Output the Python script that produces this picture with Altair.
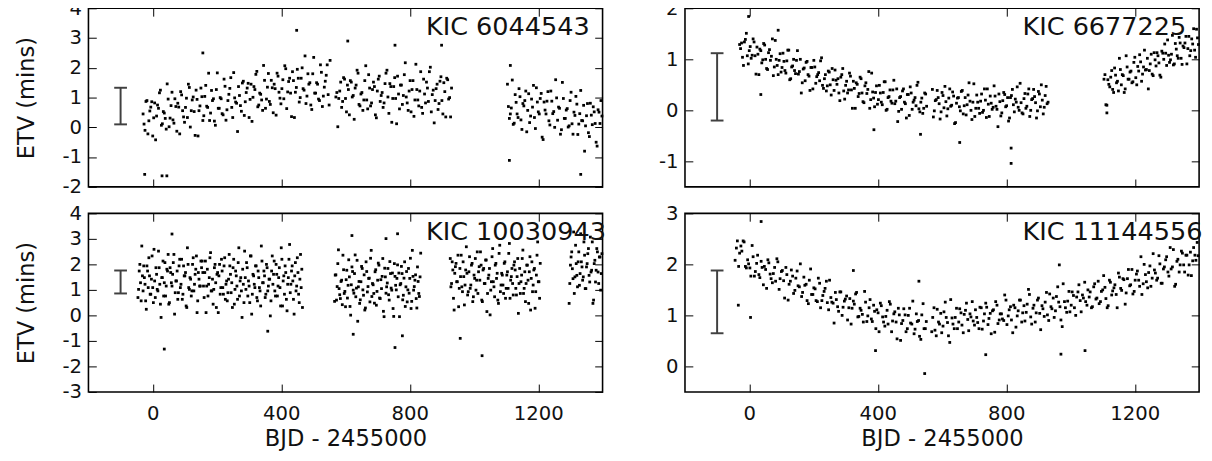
import altair as alt
import pandas as pd

FONT = "DejaVu Sans"
W, H = 524, 182
X_DOMAIN = [-200, 1400]
X_TICKS = [0, 400, 800, 1200]

# ---------------- eclipse times (BJD - 2455000) for the two top panels
XA1 = [-30,-24,-18,-12,-6,0,6,12,18,24,30,36,42,48,54,60,66,72,78,84,
       90,96,102,108,114,120,126,132,138,144,150,156,162,168,174,180,186,192,198,204,
       210,216,222,228,234,240,246,252,258,264,270,276,282,288,294,300,306,312,318,324,
       330,336,342,348,354,360,366,372,378,384,390,396,402,408,414,420,426,432,438,444,
       450,456,462,468,474,480,486,492,498,504,510,516,522,528,534,540,546,552]
XA2 = [570,576,582,588,594,600,606,612,618,624,630,636,642,648,654,660,666,672,678,684,
       690,696,702,708,714,720,726,732,738,744,750,756,762,768,774,780,786,792,798,804,
       810,816,822,828,834,840,846,852,858,864,870,876,882,888,894,900,906,912,918,924,930]
XB = [1104,1110,1116,1122,1128,1134,1140,1146,1152,1158,1164,1170,1176,1182,1188,1194,
      1200,1206,1212,1218,1224,1230,1236,1242,1248,1254,1260,1266,1272,1278,1284,1290,
      1296,1302,1308,1314,1320,1326,1332,1338,1344,1350,1356,1362,1368,1374,1380,1386,1392,1398]
XA1b = [-27,-21,-15,-9,-3,3,9,15,21,27,33,39,45,51,57,63,69,75,81,87,
        93,99,105,111,117,123,129,135,141,147,153,159,165,171,177,183,189,195,201,207,
        213,219,225,231,237,243,249,255,261,267,273,279,285,291,297,303,309,315,321,327,
        333,339,345,351,357,363,369,375,381,387,393,399,405,411,417,423,429,435,441,447,
        453,459,465,471,477,483,489,495,501,507,513,519,525,531,537,543,549]
XA2b = [573,579,585,591,597,603,609,615,621,627,633,639,645,651,657,663,669,675,681,687,
        693,699,705,711,717,723,729,735,741,747,753,759,765,771,777,783,789,795,801,807,
        813,819,825,831,837,843,849,855,861,867,873,879,885,891,897,903,909,915,921,927]
XBb = [1107,1113,1119,1125,1131,1137,1143,1149,1155,1161,1167,1173,1179,1185,1191,1197,
       1203,1209,1215,1221,1227,1233,1239,1245,1251,1257,1263,1269,1275,1281,1287,1293,
       1299,1305,1311,1317,1323,1329,1335,1341,1347,1353,1359,1365,1371,1377,1383,1389,1395]

# ---------------- KIC 6044543
TL_YA1 = [.45,-.10,.90,.22,.68,-.29,.82,.38,.64,1.25,.12,.48,-.06,.95,.31,1.18,.14,.70,.81,-.22,
          1.09,.35,.67,.33,1.34,.56,1.02,-.27,.94,.56,1.32,.23,1.04,.71,1.82,.48,.90,.21,1.27,.64,
          1.00,.46,1.62,.24,.90,1.31,.67,1.84,.85,-.14,1.07,.54,1.55,.86,1.32,.33,1.45,1.01,1.27,1.88,
          .75,1.11,.57,1.58,.95,1.81,.77,1.33,1.45,.41,1.72,.98,1.30,.96,1.97,1.19,1.65,.36,1.57,1.18,
          1.95,.85,1.65,1.30,2.40,1.05,1.45,.75,1.80,1.15,1.50,.95,2.10,.70,1.35,1.75,1.10,2.25]
TL_YA2 = [1.02,.02,1.22,.67,1.67,.97,1.42,.42,1.52,1.07,1.32,1.92,.77,1.12,.57,1.57,.92,1.77,.72,1.27,
          1.37,.32,1.62,.87,1.17,.82,1.82,1.02,1.47,.17,1.37,.97,1.72,.62,1.42,1.07,2.17,.82,1.22,.52,
          1.57,.92,1.27,.72,1.87,.47,1.12,1.52,.87,2.02,1.10,.15,1.30,.60,1.55,.90,1.50,.35,1.60,1.00,1.32]
TL_YB = [1.45,.30,.65,.10,1.10,.45,1.30,.25,.80,.90,-.15,1.13,.38,.68,.33,1.33,.52,.97,-.33,.85,
         .45,1.20,.08,.88,.53,1.60,.24,.64,-.08,.97,.30,.63,.05,1.18,-.23,.40,.78,.11,1.24,.22,
         -.80,.39,-.18,.81,.09,.52,-.50,.59,.13,.38]
TL_YA1b = [.11,.87,-.22,.55,.86,.32,-.42,.75,1.16,.07,.53,.30,1.46,.02,.73,.25,.96,-.13,.68,1.20,
           .56,.17,.98,1.45,.01,.92,.53,1.25,-.29,.72,1.03,.39,1.41,.67,.23,1.24,.96,.07,1.83,.64,
           .96,.42,1.38,.59,1.11,1.67,.33,.99,.81,1.37,.73,1.49,.40,1.17,1.48,.94,.20,1.37,1.78,.69,
           1.15,.92,2.08,.64,1.35,.87,1.58,.49,1.30,1.82,1.18,.79,1.60,2.07,.63,1.54,1.15,1.87,.33,1.34,
           1.65,1.00,2.00,1.25,.80,1.80,1.50,.60,2.35,1.15,1.45,.90,1.85,1.05,1.55,2.10,.75]
TL_YA2b = [1.17,.97,1.52,.87,1.62,.52,1.27,1.57,1.02,.27,1.42,1.82,.72,1.17,.92,2.07,.62,1.32,.82,1.52,
           .42,1.22,1.72,1.07,.67,1.47,1.92,.47,1.37,.97,1.67,.12,1.12,1.42,.77,1.77,1.02,.57,1.57,1.27,
           .37,2.12,.92,1.22,.67,1.62,.82,1.32,1.87,.52,1.25,.90,1.45,.80,1.70,.45,1.20,1.65,.95,.35]
TL_YBb = [.70,.45,1.59,.14,.84,.33,1.03,-.07,.72,1.22,.57,.16,.95,1.41,-.04,.85,.45,1.14,-.41,.58,
          .88,.22,1.22,.46,.00,.99,.68,-.23,1.51,.30,.58,.01,.90,.12,.51,1.04,-.24,.46,.23,.74,
          .05,.80,-.31,.41,.69,.13,-.63,.51,.90]
TL_OX = [-25, 29, 44, 156, 448, 607, 754, 899, 1113, 1332, 1110]
TL_OY = [-1.58, -1.63, -1.63, 2.5, 3.26, 2.9, 2.76, 2.76, 2.08, -1.58, -1.11]

# ---------------- KIC 6677225
TR_YA1 = [1.29,1.32,.88,1.39,1.07,1.17,1.02,1.40,1.07,1.24,.70,1.17,.99,1.28,.82,1.13,.98,1.40,.85,1.00,
          .70,1.11,.84,.96,.73,1.18,.60,.85,1.00,.72,1.17,.76,.34,.81,.58,.96,.67,.84,.42,.85,
          .66,.74,.97,.49,.62,.38,.77,.50,.82,.39,.59,.62,.19,.70,.38,.49,.34,.73,.40,.57,
          .04,.51,.33,.62,.17,.48,.33,.76,.21,.36,.07,.48,.21,.34,.11,.56,.00,.25,.40,.14,
          .59,.18,-.22,.25,.02,.42,.13,.31,-.10,.34,.16,.25,.49,.03,.16,-.06,.34,.08]
TR_YA2 = [.41,-.01,.21,.25,-.17,.35,.05,.17,.03,.42,.10,.28,-.24,.24,.07,.37,-.07,.25,.11,.54,
          .00,.16,-.12,.30,.04,.18,-.04,.42,-.14,.12,.28,.02,.48,.08,-.32,.17,-.05,.35,.07,.25,
          -.15,.29,.11,.22,.46,.00,.15,-.07,.33,.08,.42,.00,.23,.27,-.15,.37,.07,.20,.06,.47,.16]
TR_YB = [.61,.11,.60,.46,.78,.35,.69,.57,1.02,.50,.68,.42,.85,.61,.77,.56,1.04,.50,.77,.95,
         .71,1.18,.80,.42,.91,.71,1.13,.87,1.07,.69,1.16,1.00,1.12,1.38,.94,1.10,.89,1.31,1.07,1.43,
         1.02,1.26,1.32,.91,1.45,1.17,1.30,1.18,1.59,1.29]
TR_YA1b = [1.21,1.04,1.34,1.51,.91,1.25,1.08,1.34,.71,1.10,1.20,.93,1.31,1.00,.80,1.19,1.06,.68,1.37,.88,
           .98,.75,1.12,.78,.97,1.18,.62,.87,.78,.98,.71,1.00,.54,.83,.94,.70,.39,.84,.98,.53,
           .70,.58,1.03,.43,.70,.48,.75,.30,.60,.79,.51,.34,.65,.82,.22,.57,.40,.67,.04,.43,
           .54,.27,.65,.34,.15,.54,.41,.04,.73,.24,.35,.12,.49,.16,.35,.56,.02,.27,.18,.40,
           .13,.42,-.02,.27,.38,.16,-.15,.31,.46,.02,.20,.09,.55,-.03,.24,.04,.32]
TR_YA2b = [-.13,.19,.39,.13,-.03,.29,.47,-.11,.24,.08,.36,-.26,.14,.25,-.01,.39,.09,-.09,.30,.18,
           -.18,.52,.04,.16,-.06,.32,.00,.20,.42,-.12,.14,.06,.28,.02,.32,-.11,.19,.31,.09,-.21,
           .25,.41,-.03,.16,.06,.53,-.05,.23,.04,.32,-.12,.21,.41,.15,-.01,.32,.50,-.07,.29,.13]
TR_YBb = [.70,.10,.51,.65,.41,.83,.54,.38,.80,.70,.35,1.07,.61,.75,.54,.94,.64,.86,1.09,.57,
          .85,.79,1.02,.78,1.10,.68,.99,1.13,.93,.65,1.12,1.30,.88,1.08,.99,1.47,.91,1.20,1.02,1.32,
          .90,1.23,1.45,1.21,1.07,1.40,1.60,1.04,1.42]
TR_OX = [-2, 815, 815, 1113, 655, 533, 388, 36, 90]
TR_OY = [1.84, -1.04, -0.74, -0.05, -0.63, -0.47, -0.38, 0.31, 1.57]

# ---------------- KIC 10030943
BL_X1 = [-46,-42,-38,-34,-30,-26,-22,-18,-14,-10,-6,-2,2,6,10,14,18,22,26,30,
         34,38,42,46,50,54,58,62,66,70,74,78,82,86,90,94,98,102,106,110,
         114,118,122,126,130,134,138,142,146,150,154,158,162,166,170,174,178,182,186,190,
         194,198,202,206,210,214,218,222,226,230,234,238,242,246,250,254,258,262,266,270,
         274,278,282,286,290,294,298,302,306,310,314,318,322,326,330,334,338,342,346,350,
         354,358,362,366,370,374,378,382,386,390,394,398,402,406,410,414,418,422,426,430,
         434,438,442,446,450,454,458,462,466]
BL_Y1 = [.70,1.74,1.28,2.72,.96,1.48,.57,1.94,1.09,1.55,.83,2.33,.50,1.35,1.87,1.02,2.52,1.22,-.08,1.48,
         .76,2.07,1.15,1.74,.44,1.87,1.28,1.61,2.39,.89,1.35,.63,1.94,1.09,2.20,.83,1.55,1.68,.31,2.00,
         1.02,1.42,.96,2.26,1.22,1.81,.11,1.68,1.15,2.13,
         2.13,1.15,1.68,.11,1.81,1.22,2.26,.96,1.42,1.02,2.00,.31,1.68,1.55,.83,2.20,1.09,1.94,.63,1.35,
         .89,2.39,1.61,1.28,1.87,.44,1.74,1.15,2.07,.76,1.48,-.08,1.22,2.52,1.02,1.87,1.35,.50,2.33,.83,
         1.55,1.09,1.94,.57,1.48,.96,2.72,1.28,1.74,.70,
         2.00,.96,1.42,-.02,1.74,1.22,2.13,.76,1.61,1.15,1.87,.37,2.20,1.35,.83,1.68,.18,1.48,2.78,1.22,
         1.94,.63,1.55,.96,2.26,.83,1.42,1.09,.31]
BL_X2 = [566,570,574,578,582,586,590,594,598,602,606,610,614,618,622,626,630,634,638,642,
         646,650,654,658,662,666,670,674,678,682,686,690,694,698,702,706,710,714,718,722,
         726,730,734,738,742,746,750,754,758,762,766,770,774,778,782,786,790,794,798,802,
         806,810,814,818,822,826,830,834]
BL_Y2 = [.55,1.59,1.13,2.57,.81,1.33,.42,1.79,.94,1.40,.68,2.18,.35,1.20,1.72,.87,2.37,1.07,-.23,1.33,
         .61,1.92,1.00,1.59,.29,1.72,1.13,1.46,2.24,.74,1.20,.48,1.79,.94,2.05,.68,1.40,1.53,.16,1.85,
         .87,1.27,.81,2.11,1.07,1.66,-.04,1.53,1.00,1.98,
         1.66,1.20,1.92,.61,1.46,.35,1.72,1.00,.87,2.24,.55,1.53,1.13,1.59,.29,1.33,.74,2.44]
BL_X3 = [926,930,934,938,942,946,950,954,958,962,966,970,974,978,982,986,990,994,998,1002,
         1006,1010,1014,1018,1022,1026,1030,1034,1038,1042,1046,1050,1054,1058,1062,1066,1070,1074,1078,1082,
         1086,1090,1094,1098,1102,1106,1110,1114,1118,1122,1126,1130,1134,1138,1142,1146,1150,1154,1158,1162,
         1166,1170,1174,1178,1182,1186,1190,1194,1198,1202,1206]
BL_Y3 = [2.23,1.25,1.78,.21,1.91,1.32,2.36,1.06,1.52,1.12,2.10,.41,1.78,1.65,.93,2.30,1.19,2.04,.73,1.45,
         .99,2.49,1.71,1.38,1.97,.54,1.84,1.25,2.17,.86,1.58,.02,1.32,2.62,1.12,1.97,1.45,.60,2.43,.93,
         1.65,1.19,2.04,.67,1.58,1.06,2.82,1.38,1.84,.80,
         2.10,1.06,1.52,.08,1.84,1.32,2.23,.86,1.71,1.25,1.97,.47,2.30,1.45,.93,1.78,.28,1.58,2.88,1.32,2.04]
BL_X4 = [1298,1302,1306,1310,1314,1318,1322,1326,1330,1334,1338,1342,1346,1350,1354,1358,
         1362,1366,1370,1374,1378,1382,1386,1390,1394,1398]
BL_Y4 = [1.25,2.29,1.83,3.27,1.51,2.03,1.12,2.49,1.64,2.10,1.38,2.88,1.05,1.90,2.42,1.57,
         3.07,1.77,.47,2.03,1.31,2.62,1.70,2.29,.99,2.42]
BL_X1b = [-44,-40,-36,-32,-28,-24,-20,-16,-12,-8,-4,0,4,8,12,16,20,24,28,32,
          36,40,44,48,52,56,60,64,68,72,76,80,84,88,92,96,100,104,108,112,
          116,120,124,128,132,136,140,144,148,152,156,160,164,168,172,176,180,184,188,192,
          196,200,204,208,212,216,220,224,228,232,236,240,244,248,252,256,260,264,268,272,
          276,280,284,288,292,296,300,304,308,312,316,320,324,328,332,336,340,344,348,352,
          356,360,364,368,372,376,380,384,388,392,396,400,404,408,412,416,420,424,428,432,
          436,440,444,448,452,456,460,464]
BL_Y1b = [1.02,2.00,.57,1.55,1.94,1.22,.24,1.74,2.26,.83,1.42,1.09,2.59,.70,1.61,.96,1.87,.44,1.48,2.13,
          1.28,.76,1.81,2.39,.50,1.68,1.15,2.07,.05,1.35,1.74,.89,2.20,1.22,.63,1.94,1.55,.37,2.65,1.09,
          1.48,.76,2.00,.96,1.61,2.33,.57,1.42,1.15,1.87,
          1.68,.70,2.13,1.15,.76,1.48,2.46,.96,.44,1.87,1.28,1.61,.11,2.00,1.09,1.74,.83,2.26,1.22,.57,
          1.42,1.94,.89,.31,2.20,1.02,1.55,.63,2.65,1.35,.96,1.81,.50,1.48,2.07,.76,1.15,2.33,.05,1.61,
          1.22,1.94,.70,1.74,1.09,.37,2.13,1.28,1.55,.83,
          1.87,1.15,1.42,.57,2.33,1.61,.96,2.00,.76,1.48,1.09,2.65,.37,1.55,1.94,.63,1.22,2.20,.89,1.74,
          1.35,.05,2.07,1.15,1.68,.50,2.39,1.81]
BL_X2b = [568,572,576,580,584,588,592,596,600,604,608,612,616,620,624,628,632,636,640,644,
          648,652,656,660,664,668,672,676,680,684,688,692,696,700,704,708,712,716,720,724,
          728,732,736,740,744,748,752,756,760,764,768,772,776,780,784,788,792,796,800,804,
          808,812,816,820,824,828,832]
BL_Y2b = [1.58,.60,2.03,1.05,.66,1.38,2.36,.86,.34,1.77,1.18,1.51,.01,1.90,.99,1.64,.73,2.16,1.12,.47,
          1.32,1.84,.79,.21,2.10,.92,1.45,.53,2.55,1.25,.86,1.71,.40,1.38,1.97,.66,1.05,2.23,-.05,1.51,
          1.12,1.84,.60,1.64,.99,.27,2.03,1.18,1.45,.73,
          -.05,1.25,1.64,.79,2.10,1.12,.53,1.84,1.45,.27,2.55,.99,1.38,.66,1.90,.86,1.51]
BL_X3b = [928,932,936,940,944,948,952,956,960,964,968,972,976,980,984,988,992,996,1000,1004,
          1008,1012,1016,1020,1024,1028,1032,1036,1040,1044,1048,1052,1056,1060,1064,1068,1072,1076,1080,1084,
          1088,1092,1096,1100,1104,1108,1112,1116,1120,1124,1128,1132,1136,1140,1144,1148,1152,1156,1160,1164,
          1168,1172,1176,1180,1184,1188,1192,1196,1200,1204]
BL_Y3b = [1.12,2.10,.67,1.65,2.04,1.32,.34,1.84,2.36,.93,1.52,1.19,2.69,.80,1.71,1.06,1.97,.54,1.58,2.23,
          1.38,.86,1.91,2.49,.60,1.78,1.25,2.17,.15,1.45,1.84,.99,2.30,1.32,.73,2.04,1.65,.47,2.75,1.19,
          1.58,.86,2.10,1.06,1.71,2.43,.67,1.52,1.25,1.97,
          1.78,.80,2.23,1.25,.86,1.58,2.56,1.06,.54,1.97,1.38,1.71,.21,2.10,1.19,1.84,.93,2.36,1.32,.67]
BL_X4b = [1300,1304,1308,1312,1316,1320,1324,1328,1332,1336,1340,1344,1348,1352,1356,1360,
          1364,1368,1372,1376,1380,1384,1388,1392,1396]
BL_Y4b = [1.97,2.49,1.44,.86,2.75,1.57,2.10,1.18,3.20,1.90,1.51,2.36,1.05,2.03,2.62,1.31,
          1.70,2.88,.60,2.16,1.77,2.49,1.25,2.29,1.64]
BL_OX = [36, 624, 754, 1025, 957, 777, 60, 620, 762, 726, 358, 1296]
BL_OY = [-1.32, -0.74, -1.26, -1.58, -0.9, -0.8, 3.19, 3.13, 3.2, 3.01, -0.62, 0.47]

# ---------------- KIC 11144556
BR_X1 = [-44,-37,-30,-23,-16,-9,-2,5,12,19,26,33,40,47,54,61,68,75,82,89,
         96,103,110,117,124,131,138,145,152,159,166,173,180,187,194,201,208,215,222,229,
         236,243,250,257,264,271,278,285,292,299,306,313,320,327,334,341,348,355,362,369,
         376,383,390,397,404,411,418,425,432,439,446,453,460,467,474,481,488,495,502,509,
         516,523,530,537,544,551]
BR_Y1 = [2.08,2.46,2.22,2.26,2.44,1.93,2.01,1.77,2.15,1.86,2.18,1.74,1.94,1.96,1.53,2.03,1.72,1.82,1.67,2.05,
         1.72,1.88,1.34,1.80,1.61,1.89,1.43,1.73,1.58,2.01,1.45,1.59,1.29,1.69,1.41,1.54,1.29,1.73,1.15,1.39,
         1.53,1.25,1.69,1.26,.85,1.31,1.08,1.46,1.16,1.32,.91,1.33,1.14,1.22,1.45,.98,1.10,.87,1.26,.99,
         1.31,.88,1.08,1.11,.68,1.19,.87,.98,.83,1.22,.89,1.07,.54,1.01,.84,1.13,.68,1.00,.85,1.28,
         .73,.88,.59,1.01,.74,.88]
BR_X2 = [568,575,582,589,596,603,610,617,624,631,638,645,652,659,666,673,680,687,694,701,
         708,715,722,729,736,743,750,757,764,771,778,785,792,799,806,813,820,827,834,841,
         848,855,862,869,876,883,890,897,904,911,918,925,932,939,946,953,960,967,974,981,
         988,995,1002,1009,1016,1023,1030,1037,1044,1051,1058,1065,1072,1079,1086,1093,1100,1107,1114,1121,
         1128,1135,1142,1149,1156,1163,1170,1177,1184,1191,1198,1205,1212,1219,1226,1233,1240,1247,1254,1261,
         1268,1275,1282,1289,1296,1303,1310,1317,1324,1331,1338,1345,1352,1359,1366,1373,1380,1387,1394]
BR_Y2 = [.68,1.15,.60,.87,1.04,.79,1.26,.86,.47,.95,.74,1.14,.87,1.05,.66,1.10,.92,1.03,1.27,.81,
         .96,.74,1.15,.89,1.24,.82,1.04,1.09,.67,1.20,.91,1.03,.90,1.30,.99,1.17,.66,1.15,.99,1.30,
         .87,1.19,1.06,1.51,.97,1.14,.87,1.30,1.04,1.19,.98,1.45,.90,1.17,1.34,1.09,1.56,1.17,.78,1.27,
         1.06,1.47,1.20,1.39,1.00,1.46,1.29,1.40,1.65,1.20,1.36,1.15,1.56,1.32,1.67,1.27,1.50,1.55,1.15,1.69,
         1.40,1.54,1.41,1.83,1.53,1.72,1.22,1.72,1.58,1.90,1.47,1.81,1.69,2.15,1.62,1.80,1.54,1.97,1.73,1.89,
         1.69,2.17,1.63,1.91,2.09,1.85,2.33,1.95,1.57,2.06,1.85,2.26,1.99,2.18,1.79,2.24,2.07,2.18,2.43]
BR_X1b = [-40,-33,-26,-19,-12,-5,2,9,16,23,30,37,44,51,58,65,72,79,86,93,
          100,107,114,121,128,135,142,149,156,163,170,177,184,191,198,205,212,219,226,233,
          240,247,254,261,268,275,282,289,296,303,310,317,324,331,338,345,352,359,366,373,
          380,387,394,401,408,415,422,429,436,443,450,457,464,471,478,485,492,499,506,513,
          520,527,534,541,548]
BR_Y1b = [2.32,1.96,2.36,2.46,1.96,2.09,1.93,2.37,1.77,2.02,1.80,2.06,1.60,1.90,2.09,1.81,1.64,1.94,2.11,1.51,
          1.86,1.68,1.94,1.30,1.67,1.77,1.49,1.87,1.56,1.37,1.75,1.61,1.23,1.91,1.41,1.52,1.27,1.63,1.29,1.47,
          1.67,1.11,1.35,1.24,1.45,1.17,1.46,1.00,1.28,1.38,1.15,.83,1.28,1.42,.97,1.14,1.02,1.47,.88,1.15,
          .93,1.20,.74,1.05,1.24,.97,.79,1.10,1.27,.68,1.03,.87,1.14,.51,.90,1.01,.74,1.14,.83,.64,
          1.03,.90,.53,1.23,.74]
BR_X2b = [571,578,585,592,599,606,613,620,627,634,641,648,655,662,669,676,683,690,697,704,
          711,718,725,732,739,746,753,760,767,774,781,788,795,802,809,816,823,830,837,844,
          851,858,865,872,879,886,893,900,907,914,921,928,935,942,949,956,963,970,977,984,
          991,998,1005,1012,1019,1026,1033,1040,1047,1054,1061,1068,1075,1082,1089,1096,1103,1110,1117,1124,
          1131,1138,1145,1152,1159,1166,1173,1180,1187,1194,1201,1208,1215,1222,1229,1236,1243,1250,1257,1264,
          1271,1278,1285,1292,1299,1306,1313,1320,1327,1334,1341,1348,1355,1362,1369,1376,1383,1390,1397]
BR_Y2b = [.96,.71,1.12,.83,.66,1.07,.96,.60,1.31,.83,.96,.74,1.13,.81,1.02,1.24,.70,.97,.89,1.11,
          .86,1.16,.73,1.03,1.16,.94,.64,1.11,1.27,.84,1.03,.93,1.40,.82,1.11,.91,1.20,.77,1.09,1.30,
          1.05,.89,1.22,1.41,.83,1.20,1.05,1.34,.72,1.13,1.26,1.01,1.42,1.13,.96,1.37,1.26,.91,1.62,1.15,
          1.28,1.07,1.46,1.15,1.36,1.60,1.07,1.34,1.27,1.50,1.46,1.17,1.62,1.34,1.23,1.47,1.78,1.33,1.19,1.65,
          1.48,1.60,1.15,1.75,1.49,1.70,1.44,1.90,1.60,1.42,1.69,1.87,1.57,1.41,2.00,1.66,1.84,1.57,2.21,1.83,
          1.73,2.01,1.63,1.95,2.15,1.77,1.91,2.29,1.61,2.10,1.99,2.22,1.85,2.18,1.99,1.78,2.33,2.08,2.17]
BR_OX = [37, 546, -34, 4, 528, 965, 324, 970, 1045, 736, 393]
BR_OY = [2.84, -0.14, 1.2, 0.96, 1.67, 1.99, 1.88, 0.24, 0.31, 0.23, 0.31]

# ---------------- typical error bars (x, low, high)
ERR_X = [-100, -100, -100, -100]
ERR_LO = [0.10, -0.20, 0.86, 0.65]
ERR_HI = [1.33, 1.12, 1.76, 1.88]

LABELS = ["KIC 6044543", "KIC 6677225", "KIC 10030943", "KIC 11144556"]
Y_DOMAINS = [[-2, 4], [-1.5, 2], [-3, 4], [-0.5, 3]]
Y_TICKS = [[-2, -1, 0, 1, 2, 3, 4], [-1, 0, 1, 2], [-3, -2, -1, 0, 1, 2, 3, 4], [0, 1, 2, 3]]

LBL = "'' + datum.value"


def pairs(segments):
    xs, ys = [], []
    for sx, sy in segments:
        n = min(len(sx), len(sy))
        xs += sx[:n]
        ys += sy[:n]
    return pd.DataFrame({"x": xs, "y": ys})


def panel(i, df, bottom_labels, ytitle):
    xs = alt.Scale(domain=X_DOMAIN, nice=False, zero=False)
    ys = alt.Scale(domain=Y_DOMAINS[i], nice=False, zero=False)
    tick_style = dict(grid=False, domain=False, offset=-8, tickSize=8, tickWidth=1,
                      tickColor="black")
    if bottom_labels:
        xax = alt.Axis(orient="bottom", values=X_TICKS, labelExpr=LBL, labelPadding=12,
                       title="BJD - 2455000", titlePadding=5, **tick_style)
    else:
        xax = alt.Axis(orient="bottom", values=X_TICKS, labels=False, title=None, **tick_style)
    if ytitle:
        yax = alt.Axis(orient="left", values=Y_TICKS[i], labelExpr=LBL, labelPadding=7,
                       title="ETV (mins)", titlePadding=24, **tick_style)
    else:
        yax = alt.Axis(orient="left", values=Y_TICKS[i], labelExpr=LBL, labelPadding=7,
                       title=None, **tick_style)
    top_ax = alt.Axis(orient="top", values=X_TICKS, labels=False, title=None, **tick_style)
    right_ax = alt.Axis(orient="right", values=Y_TICKS[i], labels=False, title=None, **tick_style)

    pts = alt.Chart(df).mark_square(size=8, color="black", opacity=1).encode(
        x=alt.X("x:Q", scale=xs, axis=xax),
        y=alt.Y("y:Q", scale=ys, axis=yax),
    )
    err = pd.DataFrame({"x": [ERR_X[i]], "lo": [ERR_LO[i]], "hi": [ERR_HI[i]]})
    bar = alt.Chart(err).mark_rule(color="#404040", strokeWidth=2).encode(
        x=alt.X("x:Q", scale=xs, axis=top_ax),
        y=alt.Y("lo:Q", scale=ys, axis=right_ax),
        y2="hi:Q",
    )
    caps_df = pd.DataFrame({"x": [ERR_X[i], ERR_X[i]], "v": [ERR_LO[i], ERR_HI[i]]})
    caps = alt.Chart(caps_df).mark_tick(color="#404040", orient="horizontal", size=13,
                                        thickness=2, opacity=1).encode(
        x=alt.X("x:Q", scale=xs, axis=None),
        y=alt.Y("v:Q", scale=ys, axis=None),
    )
    txt = alt.Chart(pd.DataFrame({"t": [LABELS[i]]})).mark_text(
        align="left", baseline="alphabetic", font=FONT, fontSize=26, color="#111"
    ).encode(x=alt.value(344), y=alt.value(27), text="t:N")
    return (alt.layer(pts, bar, caps, txt)
            .resolve_axis(x="independent", y="independent")
            .properties(width=W, height=H))


tl = panel(0, pairs([(XA1, TL_YA1), (XA2, TL_YA2), (XB, TL_YB), (XA1b, TL_YA1b),
                     (XA2b, TL_YA2b), (XBb, TL_YBb), (TL_OX, TL_OY)]), False, True)
tr = panel(1, pairs([(XA1, TR_YA1), (XA2, TR_YA2), (XB, TR_YB), (XA1b, TR_YA1b),
                     (XA2b, TR_YA2b), (XBb, TR_YBb), (TR_OX, TR_OY)]), False, False)
bl = panel(2, pairs([(BL_X1, BL_Y1), (BL_X2, BL_Y2), (BL_X3, BL_Y3), (BL_X4, BL_Y4),
                     (BL_X1b, BL_Y1b), (BL_X2b, BL_Y2b), (BL_X3b, BL_Y3b), (BL_X4b, BL_Y4b),
                     (BL_OX, BL_OY)]), True, True)
br = panel(3, pairs([(BR_X1, BR_Y1), (BR_X2, BR_Y2), (BR_X1b, BR_Y1b), (BR_X2b, BR_Y2b),
                     (BR_OX, BR_OY)]), True, False)

chart = (alt.concat(tl, tr, bl, br, columns=2, spacing={"row": 5, "column": 51})
         .properties(padding={"left": 7, "top": -15, "right": 0, "bottom": 0},
                     background="white")
         .configure_view(stroke="black", strokeWidth=1.6)
         .configure_axis(labelFont=FONT, labelFontSize=20, labelColor="#111",
                         titleFont=FONT, titleFontSize=23, titleFontWeight="normal",
                         titleColor="#111"))

chart.save("out.html", embed_options={"renderer": "svg", "actions": False})
